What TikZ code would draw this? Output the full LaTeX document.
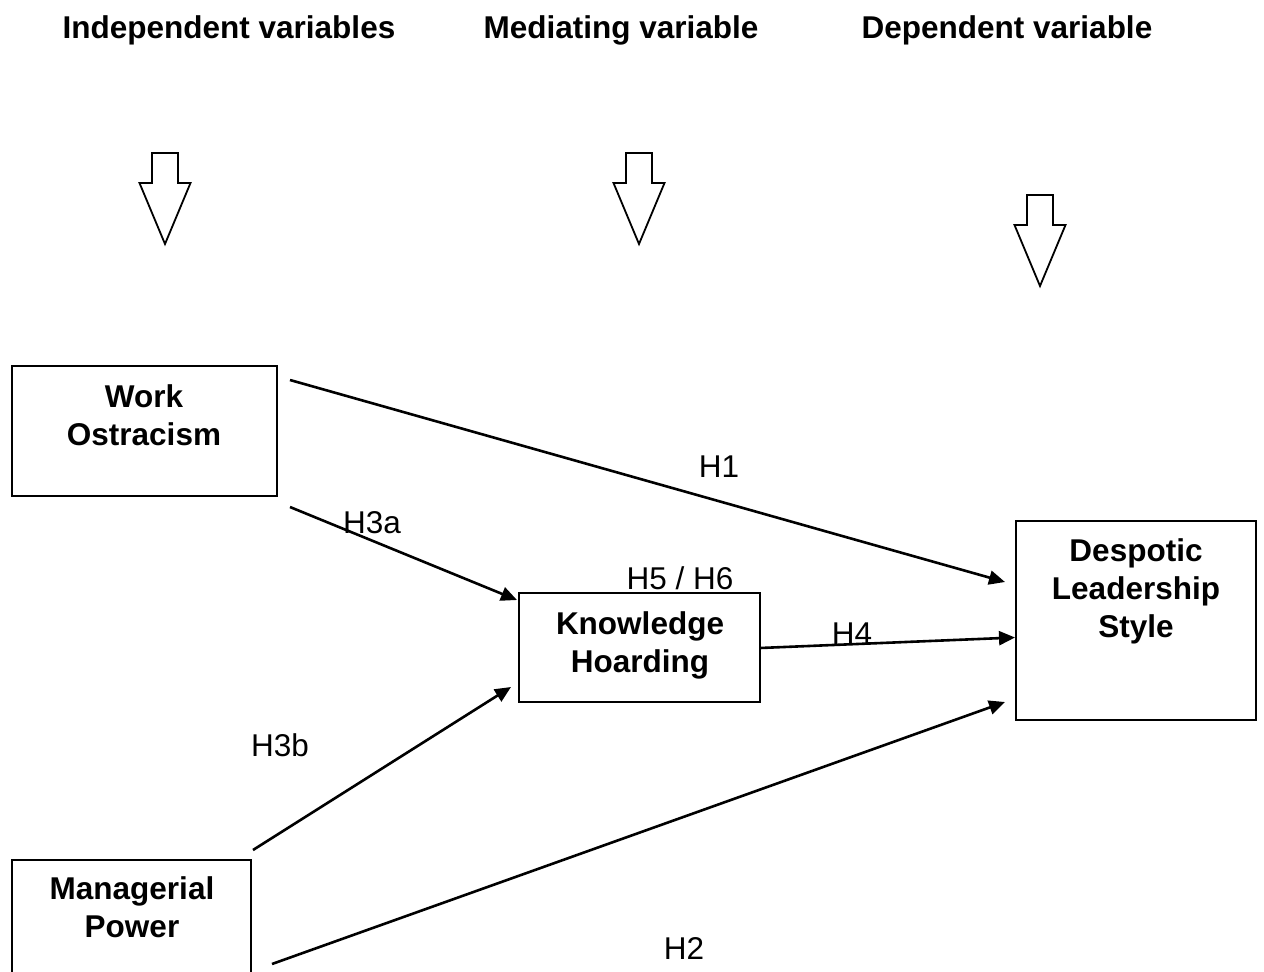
\documentclass[tikz,border=0pt]{standalone}
\usepackage{fontspec}
\setmainfont{Liberation Sans}
\usetikzlibrary{arrows.meta,calc}
\begin{document}
\begin{tikzpicture}[x=1pt,y=-1pt,
  box/.style={draw, line width=2pt, inner sep=0pt, outer sep=0pt, anchor=north west},
  boxtext/.style={font=\fontsize{31.5}{38}\selectfont\bfseries, align=center, inner sep=0pt},
  head/.style={font=\fontsize{31.5}{38}\selectfont\bfseries, inner sep=0pt, anchor=base},
  hyp/.style={font=\fontsize{31.5}{38}\selectfont, inner sep=0pt, anchor=base},
  link/.style={line width=2.6pt, -{Triangle[length=16pt,width=14pt]}},
  hollow/.style={draw, line width=1.8pt, line join=miter, fill=white}]

\useasboundingbox (0,0) rectangle (1264,972);
\clip (0,0) rectangle (1264,972);

% column headings
\node[head] (hind) at (229,38) {Independent variables};
\node[head] (hmed) at (621,38) {Mediating variable};
\node[head] (hdep) at (1007,38) {Dependent variable};

% hollow block arrows under the headings
\foreach \cx/\ty in {165/153, 639/153, 1040/195} {
  \draw[hollow] (\cx-13,\ty) -- (\cx+13,\ty) -- (\cx+13,\ty+30) -- (\cx+25.5,\ty+30)
    -- (\cx,\ty+91) -- (\cx-25.5,\ty+30) -- (\cx-13,\ty+30) -- cycle;
}

% variable boxes
\node[box, minimum width=265pt, minimum height=130pt] (wo) at (12,366) {};
\node[box, minimum width=241pt, minimum height=109pt] (kh) at (519,593) {};
\node[box, minimum width=240pt, minimum height=199pt] (dl) at (1016,521) {};
\node[box, minimum width=239pt, minimum height=140pt] (mp) at (12,860) {};

\node[boxtext] (wot) at (144,415) {Work\\Ostracism};
\node[boxtext] (kht) at (640,645) {Knowledge\\Hoarding};
\node[boxtext] (dlt) at (1136,591) {Despotic\\Leadership\\Style};
\node[boxtext] (mpt) at (132,907.5) {Managerial\\Power};

% connector end points
\coordinate (h1s) at (290,380);
\coordinate (h1e) at (1005,582);
\coordinate (h3as) at (290,507);
\coordinate (h3ae) at (517,600);
\coordinate (h4s) at (760,648);
\coordinate (h4e) at (1015,637.5);
\coordinate (h3bs) at (253,850);
\coordinate (h3be) at (511,687);
\coordinate (h2s) at (272,964);
\coordinate (h2e) at (1005,702);

\draw[link] (h1s) -- (h1e);
\draw[link] (h3as) -- (h3ae);
\draw[link] (h4s) -- (h4e);
\draw[link] (h3bs) -- (h3be);
\draw[link] (h2s) -- (h2e);

% hypothesis labels
\node[hyp] (lh1) at (719,477) {H1};
\node[hyp] (lh3a) at (372,533) {H3a};
\node[hyp] (lh56) at (680,589) {H5 / H6};
\node[hyp] (lh4) at (852,644) {H4};
\node[hyp] (lh3b) at (280,756) {H3b};
\node[hyp] (lh2) at (684,959) {H2};
\end{tikzpicture}
\end{document}
